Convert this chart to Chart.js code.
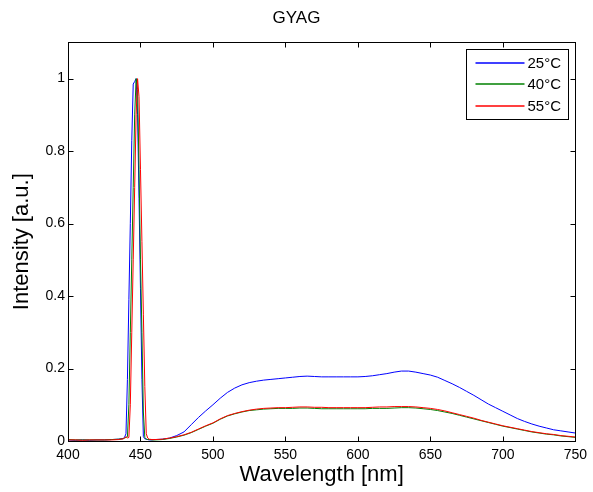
<!DOCTYPE html>
<html>
<head>
<meta charset="utf-8">
<script src="https://cdn.jsdelivr.net/npm/chart.js@4/dist/chart.umd.min.js"></script>
<style>
  html, body { margin: 0; padding: 0; background: #fff; }
  canvas { display: block; }
</style>
</head>
<body>
<canvas id="chart" width="593" height="492"></canvas>
<script>
// Spectrum data
const wavelengths = [400, 405, 410, 415, 420, 425, 430, 435, 438, 439, 440, 441, 442, 443, 444, 445, 446, 447, 448, 449,
    450, 451, 452, 453, 454, 455, 456, 458, 460, 465, 470, 475, 480, 485, 490, 495, 500, 505, 510, 515,
    520, 525, 530, 535, 540, 545, 550, 555, 560, 565, 570, 575, 580, 585, 590, 595, 600, 605, 610, 615,
    620, 625, 630, 635, 640, 645, 650, 655, 660, 665, 670, 675, 680, 685, 690, 695, 700, 705, 710, 715,
    720, 725, 730, 735, 740, 745, 750];

const intensity25 = [0.003, 0.002, 0.003, 0.002, 0.003, 0.003, 0.004, 0.005, 0.007, 0.010, 0.020, 0.170, 0.390, 0.600, 0.830, 0.985, 0.992, 1.000, 0.900, 0.670,
    0.420, 0.170, 0.012, 0.006, 0.005, 0.004, 0.003, 0.003, 0.004, 0.005, 0.008, 0.015, 0.025, 0.045, 0.065, 0.083, 0.100, 0.118, 0.134, 0.146,
    0.155, 0.161, 0.165, 0.168, 0.170, 0.172, 0.174, 0.176, 0.178, 0.179, 0.178, 0.177, 0.177, 0.177, 0.177, 0.177, 0.177, 0.178, 0.180, 0.183,
    0.186, 0.190, 0.193, 0.193, 0.190, 0.186, 0.182, 0.176, 0.167, 0.158, 0.148, 0.137, 0.126, 0.114, 0.102, 0.092, 0.082, 0.072, 0.062, 0.054,
    0.047, 0.041, 0.036, 0.031, 0.028, 0.025, 0.022];

const intensity40 = [0.004, 0.003, 0.003, 0.003, 0.003, 0.003, 0.004, 0.005, 0.006, 0.008, 0.010, 0.012, 0.100, 0.300, 0.500, 0.700, 0.900, 1.000, 0.970, 0.750,
    0.500, 0.300, 0.080, 0.010, 0.005, 0.004, 0.004, 0.003, 0.003, 0.004, 0.007, 0.011, 0.016, 0.023, 0.032, 0.041, 0.049, 0.060, 0.069, 0.075,
    0.080, 0.084, 0.086, 0.088, 0.089, 0.090, 0.090, 0.090, 0.091, 0.091, 0.090, 0.089, 0.089, 0.089, 0.089, 0.089, 0.089, 0.089, 0.090, 0.090,
    0.090, 0.091, 0.092, 0.092, 0.091, 0.089, 0.087, 0.084, 0.080, 0.076, 0.071, 0.066, 0.061, 0.056, 0.051, 0.046, 0.041, 0.037, 0.033, 0.029,
    0.025, 0.022, 0.019, 0.017, 0.014, 0.012, 0.010];

const intensity55 = [0.003, 0.003, 0.002, 0.003, 0.003, 0.003, 0.003, 0.004, 0.006, 0.008, 0.012, 0.008, 0.010, 0.100, 0.300, 0.500, 0.700, 0.900, 1.000, 0.950,
    0.750, 0.550, 0.350, 0.150, 0.020, 0.008, 0.005, 0.004, 0.004, 0.005, 0.008, 0.012, 0.017, 0.024, 0.033, 0.042, 0.050, 0.061, 0.070, 0.076,
    0.081, 0.085, 0.088, 0.090, 0.091, 0.092, 0.092, 0.093, 0.094, 0.094, 0.093, 0.093, 0.092, 0.092, 0.092, 0.092, 0.092, 0.092, 0.093, 0.094,
    0.094, 0.095, 0.095, 0.095, 0.094, 0.092, 0.090, 0.087, 0.083, 0.078, 0.073, 0.068, 0.063, 0.057, 0.052, 0.047, 0.042, 0.038, 0.034, 0.030,
    0.026, 0.023, 0.020, 0.018, 0.015, 0.013, 0.011];

const seriesLabels = ['25\u00B0C', '40\u00B0C', '55\u00B0C'];
const seriesColors = ['#0000ff', '#008000', '#ff0000'];
const xTicks = [400, 450, 500, 550, 600, 650, 700, 750];
const yTicks = [0, 0.2, 0.4, 0.6, 0.8, 1];

const FONT = '"Liberation Sans", Arial, Helvetica, sans-serif';

function toPoints(values) {
    return wavelengths.map((w, i) => ({ x: w, y: values[i] }));
}

// MATLAB-like frame with inward ticks on all four sides
const framePlugin = {
    id: 'frame',
    afterDatasetsDraw(chart) {
        const { ctx, chartArea: a, scales } = chart;
        const L = Math.round(a.left) + 0.5, R = Math.round(a.right) + 0.5;
        const T = Math.round(a.top) + 0.5, B = Math.round(a.bottom) + 0.5;
        const len = 5;
        ctx.save();
        ctx.strokeStyle = '#000';
        ctx.lineWidth = 1;
        ctx.beginPath();
        xTicks.forEach(v => {
            const px = Math.round(scales.x.getPixelForValue(v)) + 0.5;
            ctx.moveTo(px, B); ctx.lineTo(px, B - len);
            ctx.moveTo(px, T); ctx.lineTo(px, T + len);
        });
        yTicks.forEach(v => {
            const py = Math.round(scales.y.getPixelForValue(v)) + 0.5;
            ctx.moveTo(L, py); ctx.lineTo(L + len, py);
            ctx.moveTo(R, py); ctx.lineTo(R - len, py);
        });
        ctx.stroke();
        ctx.strokeRect(L, T, R - L, B - T);
        ctx.restore();
    }
};

// Boxed legend in the top right corner
const boxLegendPlugin = {
    id: 'boxLegend',
    afterDraw(chart) {
        const { ctx, chartArea: a } = chart;
        const w = 102, h = 70;
        const x0 = Math.round(a.right - 7 - w) + 0.5;
        const y0 = Math.round(a.top + 7) + 0.5;
        ctx.save();
        ctx.fillStyle = '#fff';
        ctx.fillRect(x0, y0, w, h);
        ctx.strokeStyle = '#000';
        ctx.lineWidth = 1;
        ctx.strokeRect(x0, y0, w, h);
        ctx.font = '15px ' + FONT;
        ctx.textBaseline = 'middle';
        seriesLabels.forEach((label, i) => {
            const yy = Math.round(y0 + 13 + i * 21.5);
            ctx.beginPath();
            ctx.strokeStyle = seriesColors[i];
            ctx.lineWidth = 1.3;
            ctx.moveTo(x0 + 9, yy);
            ctx.lineTo(x0 + 58, yy);
            ctx.stroke();
            ctx.fillStyle = '#000';
            ctx.fillText(label, x0 + 61, yy + 1);
        });
        ctx.restore();
    }
};

// red drawn last (on top), blue first
const drawOrder = [2, 1, 0];

const datasets = [intensity25, intensity40, intensity55].map((vals, i) => ({
    label: seriesLabels[i],
    data: toPoints(vals),
    borderColor: seriesColors[i],
    backgroundColor: seriesColors[i],
    borderWidth: 1,
    pointRadius: 0,
    tension: 0,
    fill: false,
    order: drawOrder[i]
}));

new Chart(document.getElementById('chart'), {
    type: 'line',
    data: { datasets },
    options: {
        responsive: false,
        animation: false,
        events: [],
        layout: { padding: 0 },
        plugins: {
            legend: { display: false },
            tooltip: { enabled: false },
            title: {
                display: true,
                text: 'GYAG',
                color: '#000',
                font: { family: FONT, size: 17, weight: 'normal' },
                padding: { top: 8, bottom: 14 }
            }
        },
        scales: {
            x: {
                type: 'linear',
                min: 400,
                max: 750,
                afterBuildTicks: s => { s.ticks = xTicks.map(v => ({ value: v })); },
                afterFit: s => { s.height = 51; },
                grid: { display: false, drawTicks: false },
                border: { display: false },
                ticks: { color: '#000', padding: 6, maxRotation: 0, font: { family: FONT, size: 14 } },
                title: {
                    display: true,
                    text: 'Wavelength [nm]',
                    color: '#000',
                    font: { family: FONT, size: 22 },
                    padding: { top: 0, bottom: 4 }
                }
            },
            y: {
                type: 'linear',
                min: 0,
                max: 1.1,
                afterBuildTicks: s => { s.ticks = yTicks.map(v => ({ value: v })); },
                afterFit: s => { s.width = 68; },
                grid: { display: false, drawTicks: false },
                border: { display: false },
                ticks: {
                    color: '#000',
                    padding: 3,
                    font: { family: FONT, size: 14 },
                    callback: v => String(v)
                },
                title: {
                    display: true,
                    text: 'Intensity [a.u.]',
                    color: '#000',
                    font: { family: FONT, size: 22 },
                    padding: { top: 9, bottom: 0 }
                }
            },
            // empty right-hand margin so the title centres on the whole figure
            yRight: {
                type: 'linear',
                position: 'right',
                afterFit: s => { s.width = 15; },
                grid: { display: false, drawTicks: false },
                border: { display: false },
                ticks: { display: false }
            }
        }
    },
    plugins: [framePlugin, boxLegendPlugin]
});
</script>
</body>
</html>
